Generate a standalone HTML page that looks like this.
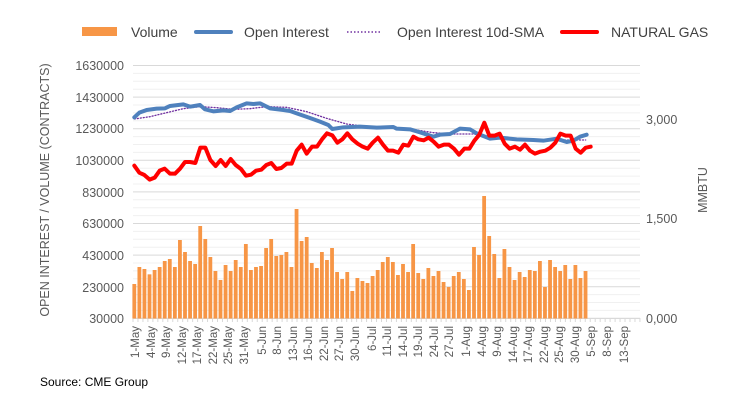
<!DOCTYPE html>
<html><head><meta charset="utf-8"><style>
body{margin:0;background:#fff;}
svg{display:block;font-family:"Liberation Sans",sans-serif;}
</style></head><body>
<svg id="s" width="734" height="419" viewBox="0 0 734 419" xmlns="http://www.w3.org/2000/svg">
<g id="grid"></g>
<g id="bars" fill="#F79646"></g>
<g transform="translate(100,50) scale(0.33333)" fill="none" stroke-linejoin="round" stroke-linecap="round">
<polyline stroke="#7030A0" stroke-width="4" stroke-dasharray="3,6" points="103,207 150,200 200,188 250,176 300,170 350,173 400,178 450,176 500,170 560,172 620,185 680,205 740,222 800,230 880,233 950,240 1000,248 1060,252 1120,252 1170,260 1250,266 1320,270 1400,270 1457,270"/>
<polyline stroke="#4F81BD" stroke-width="12" points="103,202 118,188 140,180 170,176 195,175 210,168 250,163 270,170 300,165 315,178 340,184 370,181 390,183 410,172 440,160 460,162 480,160 510,175 550,180 570,183 590,190 630,204 660,215 685,225 697,237 730,232 780,230 830,233 880,231 890,236 930,238 960,247 1000,260 1020,254 1050,252 1080,236 1110,238 1130,250 1170,266 1200,263 1250,268 1300,270 1330,272 1370,266 1400,276 1420,272 1440,260 1460,254"/>
<polyline stroke="#FF0000" stroke-width="12" points="103,347 118,368 133,375 149,389 164,383 179,362 194,356 210,371 225,371 240,356 255,336 270,336 286,339 301,293 316,293 331,330 347,348 362,330 377,348 392,327 407,345 423,357 438,377 453,374 468,362 484,359 499,345 514,339 529,357 544,354 560,341 575,341 590,302 605,284 620,311 636,290 651,290 666,268 681,250 697,256 712,278 727,268 742,250 757,268 773,281 788,290 803,296 818,278 834,263 849,284 864,302 879,302 895,308 910,284 925,287 940,260 955,268 971,271 986,263 1001,275 1016,290 1032,284 1047,284 1062,296 1077,314 1093,296 1108,296 1123,272 1138,254 1153,218 1168,257 1184,257 1199,251 1214,281 1229,296 1245,290 1260,299 1275,284 1290,302 1305,311 1321,305 1336,302 1351,293 1366,278 1381,251 1397,257 1412,257 1427,296 1442,308 1457,293 1472,290"/>
</g>
<g font-size="12.5" fill="#595959" text-anchor="end">
<text x="124" y="70">1630000</text><text x="124" y="102">1430000</text><text x="124" y="133">1230000</text><text x="124" y="165">1030000</text><text x="124" y="197">830000</text><text x="124" y="228">630000</text><text x="124" y="260">430000</text><text x="124" y="292">230000</text><text x="124" y="323">30000</text>
</g>
<g font-size="12.5" fill="#595959">
<text x="646" y="124">3,000</text><text x="646" y="223">1,500</text><text x="646" y="323">0,000</text>
</g>
<text transform="translate(49,190) rotate(-90)" font-size="12.5" fill="#595959" text-anchor="middle">OPEN INTEREST / VOLUME (CONTRACTS)</text>
<text transform="translate(707,190) rotate(-90)" font-size="12.5" fill="#595959" text-anchor="middle">MMBTU</text>
<g font-size="11.5" fill="#595959" text-anchor="end" id="dl">
<text transform="translate(139,326) rotate(-90)">1-May</text>
<text transform="translate(155,326) rotate(-90)">4-May</text>
<text transform="translate(170,326) rotate(-90)">9-May</text>
<text transform="translate(186,326) rotate(-90)">12-May</text>
<text transform="translate(201,326) rotate(-90)">17-May</text>
<text transform="translate(217,326) rotate(-90)">22-May</text>
<text transform="translate(232,326) rotate(-90)">25-May</text>
<text transform="translate(248,326) rotate(-90)">31-May</text>
<text transform="translate(266,326) rotate(-90)">5-Jun</text>
<text transform="translate(281,326) rotate(-90)">8-Jun</text>
<text transform="translate(297,326) rotate(-90)">13-Jun</text>
<text transform="translate(312,326) rotate(-90)">16-Jun</text>
<text transform="translate(328,326) rotate(-90)">22-Jun</text>
<text transform="translate(343,326) rotate(-90)">27-Jun</text>
<text transform="translate(359,326) rotate(-90)">30-Jun</text>
<text transform="translate(376,326) rotate(-90)">6-Jul</text>
<text transform="translate(391,326) rotate(-90)">11-Jul</text>
<text transform="translate(407,326) rotate(-90)">14-Jul</text>
<text transform="translate(422,326) rotate(-90)">19-Jul</text>
<text transform="translate(438,326) rotate(-90)">24-Jul</text>
<text transform="translate(453,326) rotate(-90)">27-Jul</text>
<text transform="translate(470,326) rotate(-90)">1-Aug</text>
<text transform="translate(486,326) rotate(-90)">4-Aug</text>
<text transform="translate(501,326) rotate(-90)">9-Aug</text>
<text transform="translate(517,326) rotate(-90)">14-Aug</text>
<text transform="translate(532,326) rotate(-90)">17-Aug</text>
<text transform="translate(548,326) rotate(-90)">22-Aug</text>
<text transform="translate(563,326) rotate(-90)">25-Aug</text>
<text transform="translate(579,326) rotate(-90)">30-Aug</text>
<text transform="translate(595,326) rotate(-90)">5-Sep</text>
<text transform="translate(611,326) rotate(-90)">8-Sep</text>
<text transform="translate(628,326) rotate(-90)">13-Sep</text>
</g>
<g font-size="14" fill="#404040">
<rect x="82" y="27" width="35" height="9" fill="#F79646"/>
<text x="131" y="37">Volume</text>
<line x1="196" y1="32" x2="231" y2="32" stroke="#4F81BD" stroke-width="4" stroke-linecap="round"/>
<text x="244" y="37">Open Interest</text>
<line x1="347" y1="32" x2="382" y2="32" stroke="#7030A0" stroke-width="1.5" stroke-dasharray="1.5,2"/>
<text x="397" y="37">Open Interest 10d-SMA</text>
<line x1="562" y1="32" x2="597" y2="32" stroke="#FF0000" stroke-width="4" stroke-linecap="round"/>
<text x="611" y="37">NATURAL GAS</text>
</g>
<text x="40" y="386" font-size="12" fill="#000">Source: CME Group</text>
</svg>
<script>
var ns="http://www.w3.org/2000/svg";
var g=document.getElementById("grid");
function ln(x1,y1,x2,y2,c,w){var l=document.createElementNS(ns,"line");l.setAttribute("x1",x1);l.setAttribute("y1",y1);l.setAttribute("x2",x2);l.setAttribute("y2",y2);l.setAttribute("stroke",c);l.setAttribute("stroke-width",w);g.appendChild(l);}
for(var i=0;i<=32;i++){var y=65.5+i*7.9;ln(133,y,640,y,i%4==0?"#d9d9d9":"#f0f0f0",1);}
ln(133,318.5,640,318.5,"#d9d9d9",1);
for(var i=0;i<=102;i++){var x=133+i*4.97;ln(x,318,x,322,"#d9d9d9",1);}
var b=[702,651,657,673,660,651,633,627,651,570,606,633,642,528,567,621,663,690,645,663,630,651,582,660,651,648,594,567,618,615,606,651,477,573,561,639,654,606,630,594,666,687,666,723,684,693,699,678,660,636,621,636,675,642,666,582,669,687,654,678,663,696,711,678,666,687,720,591,615,438,558,612,684,597,651,690,666,681,660,663,633,711,630,651,663,645,687,645,684,663];
var bg=document.getElementById("bars");
for(var i=0;i<b.length;i++){var r=document.createElementNS(ns,"rect");var x=134.3+i*5.07-1.9;var y=50+b[i]/3;r.setAttribute("x",x);r.setAttribute("y",y);r.setAttribute("width",3.8);r.setAttribute("height",318.5-y);bg.appendChild(r);}
</script>
</body></html>
